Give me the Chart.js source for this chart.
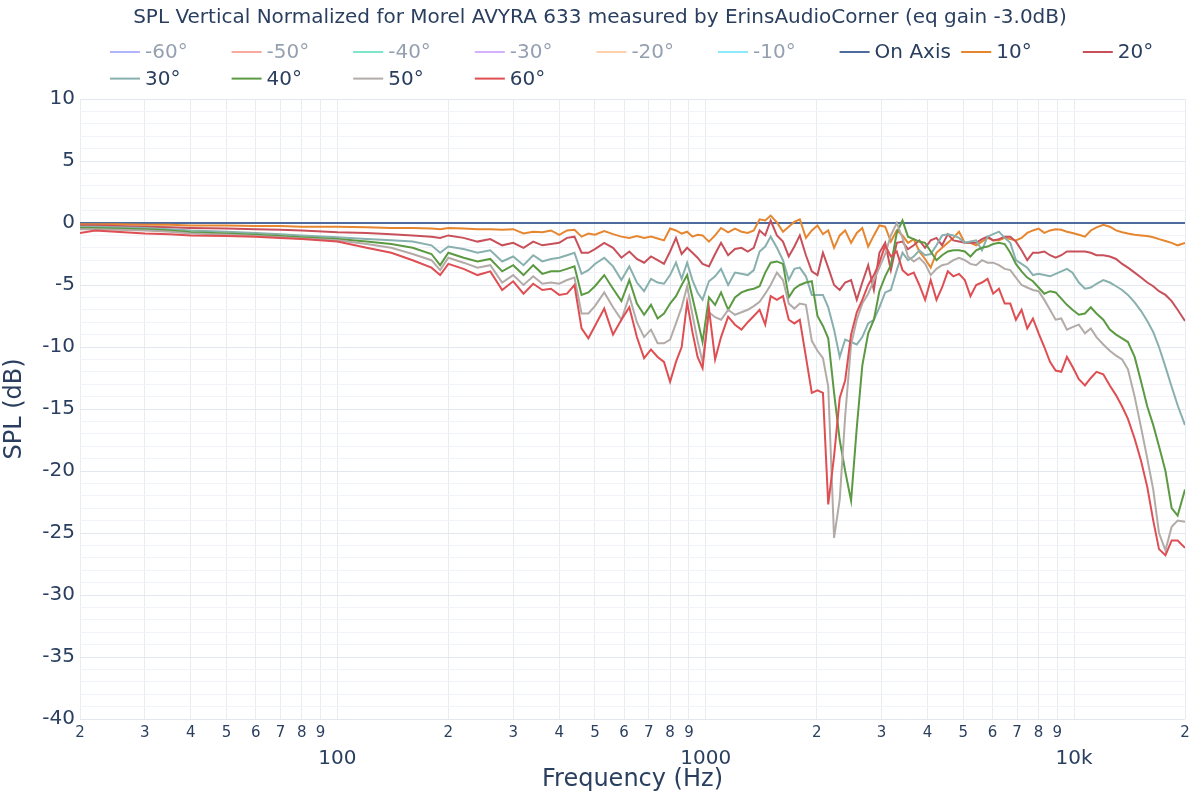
<!DOCTYPE html>
<html>
<head>
<meta charset="utf-8">
<script src="https://cdn.jsdelivr.net/npm/chart.js@4.4.1/dist/chart.umd.min.js"></script>
<style>
    html, body { margin: 0; padding: 0; background: #fff; }
    #wrap { width: 1200px; height: 800px; }
</style>
</head>
<body>
<div id="wrap"><canvas id="chart" width="1200" height="800"></canvas></div>
<script>
const freqs = [
    20, 22, 25, 30, 35, 40, 50, 60, 70, 80,
    100, 120, 140, 160, 180, 190, 200, 220, 240, 260,
    280, 300, 320, 340, 360, 380, 400, 420, 440, 460,
    480, 500, 530, 560, 590, 620, 650, 680, 710, 740,
    770, 800, 830, 860, 890, 920, 950, 980, 1020, 1060,
    1100, 1150, 1200, 1250, 1300, 1350, 1400, 1450, 1500, 1560,
    1620, 1680, 1740, 1800, 1870, 1940, 2010, 2080, 2150, 2230,
    2310, 2390, 2480, 2570, 2660, 2760, 2860, 2960, 3070, 3180,
    3300, 3420, 3540, 3670, 3800, 3940, 4080, 4230, 4380, 4540,
    4700, 4870, 5050, 5230, 5420, 5620, 5820, 6030, 6250, 6480,
    6710, 6950, 7200, 7460, 7730, 8010, 8300, 8600, 8910, 9230,
    9560, 9900, 10300, 10700, 11100, 11500, 12000, 12500, 13000, 13500,
    14000, 14600, 15200, 15800, 16400, 17000, 17700, 18400, 19100, 20000
];

const onAxis = [
    0, 0, 0, 0, 0, 0, 0, 0, 0, 0,
    0, 0, 0, 0, 0, 0, 0, 0, 0, 0,
    0, 0, 0, 0, 0, 0, 0, 0, 0, 0,
    0, 0, 0, 0, 0, 0, 0, 0, 0, 0,
    0, 0, 0, 0, 0, 0, 0, 0, 0, 0,
    0, 0, 0, 0, 0, 0, 0, 0, 0, 0,
    0, 0, 0, 0, 0, 0, 0, 0, 0, 0,
    0, 0, 0, 0, 0, 0, 0, 0, 0, 0,
    0, 0, 0, 0, 0, 0, 0, 0, 0, 0,
    0, 0, 0, 0, 0, 0, 0, 0, 0, 0,
    0, 0, 0, 0, 0, 0, 0, 0, 0, 0,
    0, 0, 0, 0, 0, 0, 0, 0, 0, 0,
    0, 0, 0, 0, 0, 0, 0, 0, 0, 0
];

const deg10 = [
    -0.1, -0.1, -0.1, -0.15, -0.15, -0.2, -0.2, -0.25, -0.25, -0.3,
    -0.3, -0.35, -0.4, -0.4, -0.45, -0.5, -0.4, -0.45, -0.5, -0.5,
    -0.55, -0.5, -0.85, -0.7, -0.75, -0.6, -0.95, -0.6, -0.55, -1.1,
    -0.85, -0.95, -0.65, -0.9, -1.1, -1.2, -1.05, -1.2, -1.1, -1.25,
    -1.4, -0.45, -0.6, -0.85, -0.7, -1.1, -0.95, -1.0, -1.5, -1.0,
    -0.4, -0.75, -0.45, -0.7, -0.8, -0.6, 0.3, 0.2, 0.6, 0.05,
    -0.7, -0.3, 0.1, 0.3, -1.2, -0.6, -0.2, -0.9, -0.6, -2.0,
    -1.0, -0.6, -1.6, -0.8, -0.4, -1.9, -1.0, -0.2, -0.3, -1.5,
    -0.6, -1.0, -1.6, -1.3, -2.3, -2.9, -3.6, -2.4, -2.0, -1.6,
    -1.2, -0.7, -1.6, -1.6, -1.8, -1.5, -1.2, -1.4, -1.4, -1.2,
    -1.3, -1.4, -1.2, -0.8, -0.6, -0.45, -0.8, -0.6, -0.5, -0.55,
    -0.7, -0.8, -0.95, -1.1, -0.6, -0.35, -0.15, -0.3, -0.6, -0.75,
    -0.85, -0.95, -1.0, -1.05, -1.15, -1.3, -1.45, -1.6, -1.8, -1.6
];

const deg20 = [
    -0.2, -0.2, -0.25, -0.3, -0.35, -0.4, -0.45, -0.5, -0.55, -0.6,
    -0.75, -0.8, -0.9, -1.0, -1.1, -1.2, -1.0, -1.2, -1.5, -1.3,
    -1.8, -1.6, -2.0, -1.5, -1.8, -1.7, -1.6, -1.2, -1.1, -2.4,
    -2.4, -2.1, -1.6, -2.0, -2.8, -2.3, -2.9, -3.2, -2.7, -3.0,
    -3.3, -2.3, -1.2, -2.5, -2.0, -2.4, -2.8, -3.3, -3.5, -2.5,
    -1.6, -2.6, -2.1, -2.0, -2.3, -2.0, -0.6, -1.0, 0.2, -1.0,
    -1.5, -2.7, -1.9, -1.0, -2.6, -3.9, -4.2, -2.4, -3.6, -5.0,
    -5.4, -4.8, -4.6, -6.2, -4.8, -3.4, -5.4, -2.4, -1.6, -3.8,
    -1.6, -1.5, -2.1, -1.8, -1.4, -2.0, -1.4, -1.2, -1.8, -0.9,
    -1.4, -1.5, -1.6, -1.6, -1.6, -1.3, -1.1, -1.4, -1.3, -1.1,
    -1.1, -1.5, -2.2, -3.0, -2.4, -2.4, -2.3, -2.6, -2.8, -2.6,
    -2.3, -2.3, -2.3, -2.3, -2.4, -2.6, -2.6, -2.7, -2.9, -3.3,
    -3.6, -4.0, -4.4, -4.8, -5.1, -5.5, -5.8, -6.3, -7.0, -7.9
];

const deg30 = [
    -0.3, -0.3, -0.35, -0.4, -0.5, -0.6, -0.7, -0.8, -0.9, -1.0,
    -1.15, -1.3, -1.4, -1.5, -1.8, -2.4, -1.9, -2.1, -2.4, -2.2,
    -3.1, -2.7, -3.4, -2.6, -3.1, -2.9, -2.8, -2.6, -2.4, -4.1,
    -3.8, -3.3, -2.8, -3.5, -4.6, -3.5, -4.8, -5.5, -4.5, -4.8,
    -4.9, -4.2, -3.2, -4.5, -3.2, -4.6, -5.6, -6.2, -4.7, -4.3,
    -3.7, -5.0, -4.0, -4.1, -4.2, -3.8, -2.3, -1.9, -1.1, -2.0,
    -3.0, -4.6, -3.7, -3.6, -4.3, -5.8, -5.8, -5.8, -6.8, -8.6,
    -10.8, -9.4, -9.6, -9.8, -9.2, -8.1, -7.8, -6.8, -5.6, -5.4,
    -3.8, -2.4, -3.0, -2.7, -2.2, -2.6, -2.5, -1.8, -1.0, -0.9,
    -1.0, -1.2, -1.6, -1.5, -1.4, -2.2, -1.1, -0.9, -0.7, -1.2,
    -1.6, -3.0, -3.3, -3.6, -4.2, -4.1, -4.2, -4.3, -4.1, -3.9,
    -3.7, -4.0, -4.8, -5.3, -5.2, -4.9, -4.6, -4.8, -5.1, -5.4,
    -5.8, -6.4, -7.1, -7.9, -8.8, -10.0, -11.6, -13.2, -14.7, -16.3
];

const deg40 = [
    -0.4, -0.4, -0.45, -0.5, -0.6, -0.75, -0.85, -0.95, -1.05, -1.15,
    -1.3, -1.5, -1.7, -2.0, -2.5, -3.4, -2.4, -2.8, -3.1, -2.9,
    -3.9, -3.4, -4.2, -3.4, -4.1, -3.9, -3.9, -3.7, -3.5, -5.8,
    -5.6, -5.1, -4.2, -5.3, -6.3, -4.6, -6.5, -7.4, -6.6, -7.7,
    -7.3, -6.5, -5.9, -5.0, -4.2, -6.0, -7.8, -9.6, -6.0, -6.6,
    -5.6, -7.0, -6.0, -5.6, -5.4, -5.3, -5.1, -4.0, -3.2, -3.1,
    -3.3, -6.0, -5.3, -5.0, -4.8, -4.7, -7.5, -8.3, -9.3, -13.7,
    -17.5, -20.0, -22.4, -16.5, -11.5, -8.9, -7.8, -5.5, -4.3, -3.4,
    -0.8, 0.2, -1.1, -1.3, -1.5, -1.6, -2.3, -3.0, -2.6, -2.3,
    -2.2, -2.2, -2.3, -2.7, -2.2, -2.0, -1.9, -1.7, -1.6, -1.7,
    -2.4, -3.3, -3.9, -4.4, -4.7, -5.2, -5.7, -5.5, -5.6, -6.1,
    -6.6, -7.0, -7.4, -7.3, -6.8, -7.3, -7.8, -8.6, -9.0, -9.3,
    -9.6, -10.8, -12.8, -14.8, -16.3, -18.0, -20.0, -23.0, -23.6, -21.5
];

const deg50 = [
    -0.5, -0.5, -0.55, -0.6, -0.7, -0.85, -0.95, -1.05, -1.15, -1.25,
    -1.4, -1.7, -2.0, -2.5, -3.0, -3.8, -2.8, -3.2, -3.6, -3.4,
    -4.8, -4.2, -5.0, -4.3, -4.9, -4.8, -4.9, -4.6, -4.4, -7.3,
    -7.3, -6.7, -5.6, -6.8, -7.8, -5.9, -8.0, -9.2, -8.6, -9.7,
    -9.7, -9.4, -8.1, -6.8, -5.1, -7.4, -9.5, -11.2, -7.2, -7.6,
    -7.8, -7.0, -7.4, -7.2, -7.0, -6.7, -6.35, -5.7, -5.0, -4.0,
    -4.6, -6.5, -6.9, -6.5, -6.6, -9.5, -10.3, -10.9, -13.2, -25.4,
    -22.3, -15.6, -9.8, -7.8, -6.5, -5.7, -4.6, -3.6, -2.5, -1.0,
    0.0, -1.2, -2.7, -3.1, -2.8, -3.3, -4.2, -3.7, -3.4, -3.3,
    -3.0, -2.8, -3.0, -3.3, -3.4, -3.0, -3.2, -3.2, -3.4, -3.7,
    -3.8, -4.4, -5.0, -5.2, -5.4, -5.5, -6.2, -7.0, -7.8, -7.7,
    -8.6, -8.4, -8.2, -8.9, -8.5, -9.2, -9.8, -10.3, -10.7, -11.0,
    -11.8, -14.0, -16.5, -19.0, -21.5, -25.0, -26.4, -24.5, -24.0, -24.1
];

const deg60 = [
    -0.8, -0.6, -0.7, -0.85, -0.9, -1.0, -1.05, -1.1, -1.2, -1.3,
    -1.5, -2.0, -2.4, -3.0, -3.6, -4.2, -3.3, -3.7, -4.2, -3.9,
    -5.4, -4.7, -5.7, -4.9, -5.4, -5.3, -5.8, -5.7, -5.0, -8.5,
    -9.3, -8.3, -6.9, -9.0, -7.8, -6.8, -9.2, -10.9, -10.2, -10.8,
    -11.2, -12.8, -11.2, -10.0, -6.4, -8.8, -10.8, -11.7, -6.9, -11.0,
    -9.2, -7.55, -8.2, -8.6, -8.0, -7.5, -7.0, -8.2, -5.9, -6.2,
    -5.9, -7.8, -8.1, -7.8, -10.8, -13.7, -13.5, -13.7, -22.7, -18.8,
    -14.1, -12.7, -9.0, -7.2, -6.2, -5.0, -4.2, -3.2, -1.8, -2.7,
    -2.3, -3.8, -4.2, -4.0, -5.0, -6.2, -4.6, -6.2, -5.2, -3.9,
    -4.3, -4.1, -4.6, -5.9, -5.0, -4.8, -4.5, -5.7, -5.3, -6.5,
    -6.5, -7.8, -7.0, -8.5, -7.7, -8.9, -10.0, -11.2, -11.9, -12.0,
    -10.8, -11.6, -12.6, -13.1, -12.5, -12.0, -12.2, -13.1, -13.9, -14.8,
    -15.8, -17.4, -19.2, -21.3, -24.0, -26.3, -26.8, -25.6, -25.6, -26.2
];

const hiddenLabels = ['-60°', '-50°', '-40°', '-30°', '-20°', '-10°'];
const hiddenColors = ['#636EFA', '#EF553B', '#00CC96', '#AB63FA', '#FFA15A', '#19D3F3'];

const shownLabels = ['On Axis', '10°', '20°', '30°', '40°', '50°', '60°'];
const shownSeries = [onAxis, deg10, deg20, deg30, deg40, deg50, deg60];
const shownColors = ['#4E6B9E', '#E6862F', '#C8505A', '#88B0AE', '#5B9A43', '#B2ABA8', '#DE4E52'];

const xTickValues = [
    20, 30, 40, 50, 60, 70, 80, 90,
    100, 200, 300, 400, 500, 600, 700, 800, 900,
    1000, 2000, 3000, 4000, 5000, 6000, 7000, 8000, 9000,
    10000, 20000
];
const xMajor = { 100: '100', 1000: '1000', 10000: '10k' };

const titleText = 'SPL Vertical Normalized for Morel AVYRA 633 measured by ErinsAudioCorner (eq gain -3.0dB)';
const fontFamily = "'DejaVu Sans', Verdana, sans-serif";
const textColor = '#2a3f5f';

const datasets = [];
hiddenLabels.forEach((lbl, i) => {
    datasets.push({
        label: lbl,
        data: [],
        hidden: true,
        faded: true,
        borderColor: hiddenColors[i]
    });
});
shownLabels.forEach((lbl, i) => {
    datasets.push({
        label: lbl,
        data: freqs.map((f, k) => ({ x: f, y: shownSeries[i][k] })),
        borderColor: shownColors[i],
        borderWidth: 2,
        pointRadius: 0,
        fill: false,
        tension: 0,
        order: -i
    });
});

// plotly-style title + legend in fixed columns
const headerPlugin = {
    id: 'header',
    afterDraw(chart) {
        const ctx = chart.ctx;
        ctx.save();
        ctx.fillStyle = textColor;
        ctx.font = '20px ' + fontFamily;
        ctx.textAlign = 'center';
        ctx.textBaseline = 'middle';
        ctx.fillText(titleText, 600, 18);

        ctx.font = '20px ' + fontFamily;
        ctx.textAlign = 'left';
        chart.data.datasets.forEach((ds, i) => {
            const col = i % 9;
            const row = Math.floor(i / 9);
            const x = 105 + col * 121.6;
            const y = 52 + row * 26.6;
            ctx.globalAlpha = ds.faded ? 0.5 : 1;
            ctx.strokeStyle = ds.borderColor;
            ctx.lineWidth = 2;
            ctx.beginPath();
            ctx.moveTo(x + 5, y);
            ctx.lineTo(x + 35, y);
            ctx.stroke();
            ctx.fillStyle = textColor;
            ctx.fillText(ds.label, x + 40, y + 1);
        });
        ctx.restore();
    }
};

new Chart(document.getElementById('chart').getContext('2d'), {
    type: 'line',
    data: { datasets: datasets },
    options: {
        responsive: false,
        animation: false,
        devicePixelRatio: 1,
        layout: { padding: { top: 99, right: 15, left: 0, bottom: 0 } },
        plugins: {
            legend: { display: false },
            title: { display: false },
            tooltip: { enabled: false }
        },
        scales: {
            x: {
                type: 'logarithmic',
                min: 20,
                max: 20000,
                afterBuildTicks: (scale) => {
                    scale.ticks = xTickValues.map(v => ({ value: v }));
                },
                afterFit: (scale) => { scale.height = 81; },
                border: { display: false },
                grid: { color: '#E8ECF3', lineWidth: 1, drawTicks: false },
                ticks: {
                    autoSkip: false,
                    maxRotation: 0,
                    padding: 5,
                    color: textColor,
                    font: (c) => ({
                        family: fontFamily,
                        size: (c.tick && xMajor[c.tick.value]) ? 20 : 15,
                        lineHeight: (c.tick && xMajor[c.tick.value]) ? 1.15 : 1.2
                    }),
                    callback: (v) => xMajor[v] ? ['', xMajor[v]] : String(v).charAt(0)
                },
                title: {
                    display: true,
                    text: 'Frequency (Hz)',
                    color: textColor,
                    font: { family: fontFamily, size: 24 },
                    padding: { top: 0, bottom: 6 }
                }
            },
            y: {
                min: -40,
                max: 10,
                afterFit: (scale) => { scale.width = 80; },
                border: { display: false },
                grid: {
                    drawTicks: false,
                    color: (c) => (c.tick && c.tick.value % 5 === 0) ? '#E3E8F0' : '#F1F3F8'
                },
                ticks: {
                    stepSize: 1,
                    autoSkip: false,
                    padding: 5,
                    color: textColor,
                    font: { family: fontFamily, size: 20 },
                    callback: (v) => v % 5 === 0 ? String(v) : ''
                },
                title: {
                    display: true,
                    text: 'SPL (dB)',
                    color: textColor,
                    font: { family: fontFamily, size: 24 },
                    padding: { top: 0, bottom: 0 }
                }
            }
        }
    },
    plugins: [headerPlugin]
});
</script>
</body>
</html>
